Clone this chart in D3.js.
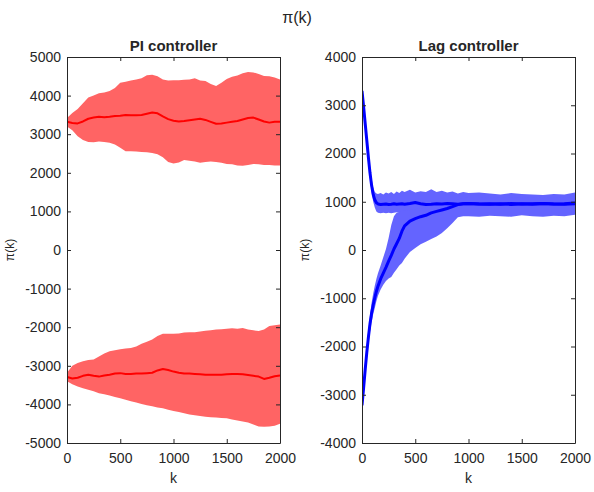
<!DOCTYPE html>
<html>
  <head>
    <meta charset="UTF-8">
    <title>pi(k) - PI vs Lag controller</title>
    <script src="https://d3js.org/d3.v7.min.js"></script>
    <style>
      body { margin: 0; background: #fff; }
      text { font-family: "Liberation Sans", Arial, Helvetica, sans-serif; fill: #262626; }
    </style>
  </head>
  <body>
    <div id="chart"></div>
    <script>
      // x ticks shared by both panels
      const kTicks = [0, 500, 1000, 1500, 2000];
      const piTicks = [-5000, -4000, -3000, -2000, -1000, 0, 1000, 2000, 3000, 4000, 5000];
      const lagTicks = [-4000, -3000, -2000, -1000, 0, 1000, 2000, 3000, 4000];

      // PI controller, sampled every 50 steps
      const piK = d3.range(0, 2001, 50);
      const piUpperMean = [3320, 3290, 3280, 3330, 3400, 3430, 3450, 3440, 3450, 3470, 3480, 3500, 3490, 3490, 3500, 3530, 3560, 3540, 3460, 3390,
        3350, 3330, 3340, 3360, 3380, 3400, 3370, 3320, 3270, 3280, 3300, 3320, 3340, 3380, 3420, 3430, 3380, 3330, 3300, 3320, 3320];
      const piUpperHi = [3420, 3550, 3650, 3800, 3950, 4000, 4060, 4080, 4120, 4200, 4330, 4360, 4390, 4420, 4450, 4530, 4540, 4500, 4420, 4390,
        4400, 4400, 4410, 4420, 4450, 4390, 4380, 4300, 4250, 4330, 4430, 4490, 4520, 4580, 4610, 4600, 4560, 4510, 4500, 4470, 4420];
      const piUpperLo = [3200, 3100, 2950, 2850, 2800, 2790, 2810, 2800, 2780, 2730, 2650, 2560, 2560, 2550, 2540, 2530, 2510, 2480, 2400, 2280,
        2240, 2270, 2330, 2310, 2290, 2260, 2280, 2290, 2280, 2260, 2230, 2220, 2190, 2180, 2200, 2230, 2220, 2200, 2200, 2190, 2190];
      const piLowerMean = [-3290, -3330, -3310, -3260, -3230, -3260, -3280, -3250, -3230, -3200, -3190, -3210, -3210, -3200, -3200, -3190, -3180, -3120, -3085, -3110,
        -3150, -3180, -3200, -3200, -3210, -3220, -3230, -3230, -3230, -3230, -3220, -3210, -3210, -3220, -3240, -3260, -3280, -3340, -3310, -3270, -3250];
      const piLowerHi = [-3180, -3000, -2930, -2880, -2850, -2840, -2760, -2680, -2620, -2600, -2570, -2550, -2540, -2500, -2430, -2380, -2320, -2230, -2170, -2170,
        -2170, -2160, -2140, -2130, -2130, -2110, -2090, -2080, -2060, -2050, -2040, -2030, -2040, -2020, -2060, -2080, -2100, -2060, -1970, -1950, -1930];
      const piLowerLo = [-3400, -3480, -3535, -3580, -3620, -3660, -3710, -3740, -3770, -3810, -3840, -3880, -3920, -3950, -3990, -4020, -4050, -4080, -4100, -4140,
        -4170, -4200, -4230, -4260, -4280, -4300, -4320, -4330, -4340, -4350, -4360, -4390, -4420, -4440, -4470, -4520, -4575, -4580, -4575, -4550, -4500];

      // Lag controller, denser sampling near the start
      const lagK = [0, 15, 30, 45, 60, 75, 90, 105, 120, 135, 150, 175, 200, 225, 250, 275, 300, 325, 350, 375, 400,
        450, 500, 550, 600, 650, 700, 750, 800, 850, 900, 950, 1000, 1100, 1200, 1300, 1400, 1500, 1600, 1700, 1800, 1900, 2000];
      const lagAMean = [3300, 2970, 2620, 2270, 1920, 1600, 1340, 1150, 1040, 980, 955, 945, 950, 955, 945, 950, 960, 950, 955, 960, 950,
        965, 985, 960, 945, 950, 960, 955, 965, 960, 950, 960, 965, 955, 960, 950, 965, 955, 960, 965, 955, 960, 975];
      const lagAHi = [3450, 3110, 2760, 2410, 2060, 1740, 1480, 1300, 1200, 1170, 1160, 1180, 1150, 1190, 1170, 1200, 1160, 1210, 1180, 1230, 1200,
        1250, 1190, 1220, 1200, 1260, 1200, 1230, 1190, 1210, 1170, 1200, 1180, 1190, 1170, 1150, 1180, 1160, 1150, 1140, 1160, 1150, 1190];
      const lagALo = [3150, 2830, 2480, 2130, 1780, 1460, 1200, 1000, 880, 800, 770, 760, 770, 760, 770, 760, 770, 780, 770, 780, 790,
        800, 800, 790, 780, 790, 780, 790, 780, 770, 760, 770, 760, 750, 770, 760, 770, 760, 780, 760, 770, 760, 780];
      const lagBMean = [-3220, -2860, -2480, -2120, -1810, -1530, -1310, -1140, -990, -860, -750, -600, -480, -360, -230, -110, 20, 130, 240, 390, 500,
        600, 650, 690, 720, 770, 800, 830, 860, 900, 940, 960, 965, 955, 950, 960, 945, 960, 950, 965, 955, 950, 960];
      const lagBHi = [-3100, -2720, -2330, -1970, -1650, -1350, -1100, -900, -740, -600, -480, -320, -150, 20, 250, 520, 700, 770, 790, 800, 820,
        830, 850, 860, 880, 900, 920, 940, 960, 1000, 1050, 1080, 1100, 1100, 1090, 1100, 1080, 1100, 1090, 1100, 1090, 1080, 1110];
      const lagBLo = [-3330, -3000, -2630, -2270, -1970, -1700, -1500, -1330, -1200, -1060, -950, -820, -720, -640, -590, -560, -470, -400, -320, -270, -180,
        -40, 40, 120, 170, 230, 280, 350, 450, 560, 680, 700, 700, 690, 710, 700, 690, 720, 700, 690, 710, 700, 730];

      const width = 594;
      const height = 492;
      const plotTop = 57, plotBottom = 443;

      const svg = d3.select("#chart")
        .append("svg")
        .attr("width", width)
        .attr("height", height);

      svg.append("text")
        .attr("x", 297).attr("y", 23)
        .attr("text-anchor", "middle")
        .style("font-size", "16px")
        .text("π(k)");

      // plain integers with an ASCII hyphen, like the original figure
      const fmt = d => String(d);

      function makePanel(id, left, right, yTicks, title, bands, lines, fillColor, lineColor, lineWidth) {
        const x = d3.scaleLinear().domain([0, 2000]).range([left, right]);
        const y = d3.scaleLinear().domain([yTicks[0], yTicks[yTicks.length - 1]]).range([plotBottom, plotTop]);
        const g = svg.append("g");

        g.append("clipPath").attr("id", id)
          .append("rect")
          .attr("x", left).attr("y", plotTop)
          .attr("width", right - left).attr("height", plotBottom - plotTop);

        const plot = g.append("g").attr("clip-path", "url(#" + id + ")");

        bands.forEach(b => {
          const area = d3.area()
            .x((d, i) => x(b.k[i]))
            .y0((d, i) => y(b.lo[i]))
            .y1((d, i) => y(b.hi[i]));
          plot.append("path")
            .datum(b.k)
            .attr("d", area)
            .attr("fill", fillColor);
        });

        lines.forEach(l => {
          const line = d3.line()
            .x((d, i) => x(l.k[i]))
            .y((d, i) => y(l.v[i]));
          plot.append("path")
            .datum(l.k)
            .attr("d", line)
            .attr("fill", "none")
            .attr("stroke", lineColor)
            .attr("stroke-width", lineWidth)
            .attr("stroke-linejoin", "round");
        });

        // axes, ticks pointing inward on all four sides
        const axisColor = "#262626";
        const xb = g.append("g").attr("transform", "translate(0," + plotBottom + ")")
          .call(d3.axisBottom(x).tickValues(kTicks).tickFormat(fmt).tickSizeInner(-4).tickSizeOuter(0).tickPadding(10));
        const xt = g.append("g").attr("transform", "translate(0," + plotTop + ")")
          .call(d3.axisTop(x).tickValues(kTicks).tickSizeInner(-4).tickSizeOuter(0).tickFormat(""));
        const yl = g.append("g").attr("transform", "translate(" + left + ",0)")
          .call(d3.axisLeft(y).tickValues(yTicks).tickFormat(fmt).tickSizeInner(-4).tickSizeOuter(0).tickPadding(6));
        const yr = g.append("g").attr("transform", "translate(" + right + ",0)")
          .call(d3.axisRight(y).tickValues(yTicks).tickSizeInner(-4).tickSizeOuter(0).tickFormat(""));

        [xb, xt, yl, yr].forEach(a => {
          a.selectAll("path, line").attr("stroke", axisColor);
          a.selectAll("text")
            .style("font-size", "14px")
            .style("font-family", "Liberation Sans, Arial, sans-serif")
            .attr("fill", axisColor);
        });

        g.append("text")
          .attr("x", (left + right) / 2).attr("y", 51)
          .attr("text-anchor", "middle")
          .style("font-size", "15px")
          .style("font-weight", "bold")
          .text(title);

        g.append("text")
          .attr("x", (left + right) / 2).attr("y", 483)
          .attr("text-anchor", "middle")
          .style("font-size", "14px")
          .text("k");

        g.append("text")
          .attr("transform", "translate(" + (left - 53) + "," + ((plotTop + plotBottom) / 2) + ") rotate(-90)")
          .attr("text-anchor", "middle")
          .style("font-size", "12px")
          .text("π(k)");
      }

      makePanel("clipPI", 67, 280, piTicks, "PI controller",
        [{ k: piK, lo: piUpperLo, hi: piUpperHi }, { k: piK, lo: piLowerLo, hi: piLowerHi }],
        [{ k: piK, v: piUpperMean }, { k: piK, v: piLowerMean }],
        "#ff6464", "#ff0000", 2);

      makePanel("clipLag", 362, 575, lagTicks, "Lag controller",
        [{ k: lagK, lo: lagALo, hi: lagAHi }, { k: lagK, lo: lagBLo, hi: lagBHi }],
        [{ k: lagK, v: lagAMean }, { k: lagK, v: lagBMean }],
        "#6464ff", "#0000ff", 3);
    </script>
  </body>
</html>
